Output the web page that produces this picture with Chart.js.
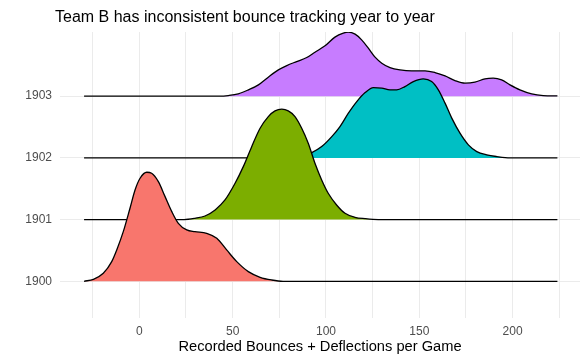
<!DOCTYPE html>
<html><head><meta charset="utf-8">
<script src="https://cdn.jsdelivr.net/npm/chart.js@4"></script>
<style>html,body{margin:0;padding:0;background:#fff}#wrap{width:588px;height:363px;position:relative}</style>
</head><body><div id="wrap"><canvas id="c" width="588" height="363"></canvas></div>
<script>
const years = [1900, 1901, 1902, 1903];
const xTicks = [-25, 0, 25, 50, 75, 100, 125, 150, 175, 200, 225];
const yTicks = [1900, 1901, 1902, 1903];

// x values and ridge heights (in row units) for each year
const x1900 = [-29.6, -24.6, -19.3, -14.8, -12.1, -8.6, -5.0, -2.3, 0.4, 4.0, 6.6, 10.2, 13.8, 17.4, 20.9, 25.4, 29.8, 36.1, 41.5, 46.8, 52.2, 58.4, 64.7, 70.9, 77, 224];
const h1900 = [0, 0.032, 0.13, 0.318, 0.508, 0.804, 1.184, 1.48, 1.67, 1.767, 1.751, 1.615, 1.372, 1.129, 0.94, 0.832, 0.804, 0.778, 0.697, 0.508, 0.318, 0.156, 0.065, 0.021, 0, 0];

const x1901 = [-29.6, 24, 29.8, 35.2, 40.6, 45.9, 51.3, 55.7, 60.2, 64.7, 69.1, 72.7, 76.3, 79.8, 83.4, 87.0, 90.5, 94.1, 97.7, 101.2, 105.7, 110.2, 115.5, 120.9, 128, 224];
const h1901 = [0, 0, 0.021, 0.058, 0.156, 0.318, 0.589, 0.858, 1.182, 1.48, 1.669, 1.761, 1.789, 1.761, 1.669, 1.48, 1.237, 0.913, 0.642, 0.426, 0.237, 0.102, 0.037, 0.015, 0, 0];

const x1902 = [-29.6, 75, 86, 92.4, 97.7, 103.1, 107.5, 112.0, 116.5, 121.0, 125.4, 129.9, 134.3, 137.9, 142.3, 146.8, 152.1, 156.6, 160.2, 163.8, 167.4, 171.8, 176.3, 180.8, 186.1, 191.5, 198.6, 224];
const h1902 = [0, 0, 0.03, 0.086, 0.183, 0.345, 0.508, 0.725, 0.913, 1.059, 1.14, 1.13, 1.103, 1.103, 1.156, 1.237, 1.281, 1.237, 1.103, 0.887, 0.644, 0.4, 0.211, 0.102, 0.049, 0.021, 0, 0];

const x1903 = [-29.6, 43, 47.7, 53.0, 58.4, 63.8, 69.1, 74.5, 79.0, 84.3, 89.7, 94.1, 99.5, 104.8, 109.3, 112.0, 115.6, 119.1, 122.7, 126.3, 129.9, 134.3, 139.7, 145.9, 153.1, 158.4, 163.8, 169.1, 174.5, 179.8, 185.2, 189.6, 194.1, 198.6, 203.9, 210.2, 216.4, 224];
const h1903 = [0, 0, 0.01, 0.037, 0.102, 0.183, 0.308, 0.426, 0.496, 0.561, 0.626, 0.713, 0.816, 0.957, 1.022, 1.038, 1.005, 0.913, 0.778, 0.632, 0.535, 0.464, 0.426, 0.41, 0.41, 0.383, 0.329, 0.253, 0.211, 0.227, 0.281, 0.292, 0.264, 0.183, 0.102, 0.037, 0.01, 0.005];

const xs = [x1900, x1901, x1902, x1903];
const hs = [h1900, h1901, h1902, h1903];
const colors = ['#F8766D', '#7CAE00', '#00BFC4', '#C77CFF'];
const FONT = "'Liberation Sans', Arial, sans-serif";
const TITLE = 'Team B has inconsistent bounce tracking year to year';

const datasets = years.map((yr, i) => ({
  label: String(yr),
  data: xs[i].map((x, j) => ({x: x, y: yr + hs[i][j]})),
  borderColor: '#000000',
  borderWidth: 1.3,
  backgroundColor: colors[i],
  fill: {value: yr},
  pointRadius: 0,
  cubicInterpolationMode: 'monotone'
}));

const titlePlugin = {
  id: 'plotTitle',
  afterDraw(chart) {
    const ctx = chart.ctx;
    ctx.save();
    ctx.font = '16px ' + FONT;
    ctx.fillStyle = '#000000';
    ctx.textAlign = 'left';
    ctx.textBaseline = 'alphabetic';
    ctx.fillText(TITLE, 55, 22);
    ctx.restore();
  }
};

new Chart(document.getElementById('c'), {
  type: 'line',
  data: {datasets: datasets},
  plugins: [titlePlugin],
  options: {
    responsive: false,
    animation: false,
    layout: {padding: {left: 0, right: 8, top: 32, bottom: 0}},
    plugins: {legend: {display: false}, tooltip: {enabled: false}},
    scales: {
      x: {
        type: 'linear', min: -42.5, max: 236.1,
        afterBuildTicks: s => { s.ticks = xTicks.map(v => ({value: v})); },
        afterFit: s => { s.height = 45; },
        ticks: {autoSkip: false, maxRotation: 0, padding: 6, color: '#4D4D4D',
          font: {family: FONT, size: 12},
          callback: v => (v % 50 === 0 ? String(v) : '')},
        grid: {color: '#EBEBEB', lineWidth: 1, drawTicks: false},
        border: {display: false},
        title: {display: true, text: 'Recorded Bounces + Deflections per Game', color: '#000000',
          font: {family: FONT, size: 14.67}, padding: {top: 0, bottom: 7}}
      },
      y: {
        type: 'linear', min: 1899.405, max: 1904.04,
        afterBuildTicks: s => { s.ticks = yTicks.map(v => ({value: v})); },
        afterFit: s => { s.width = 60; },
        ticks: {padding: 8, color: '#4D4D4D', font: {family: FONT, size: 12},
          callback: v => String(v)},
        grid: {color: '#EBEBEB', lineWidth: 1, drawTicks: false},
        border: {display: false}
      }
    }
  }
});
</script></body></html>
